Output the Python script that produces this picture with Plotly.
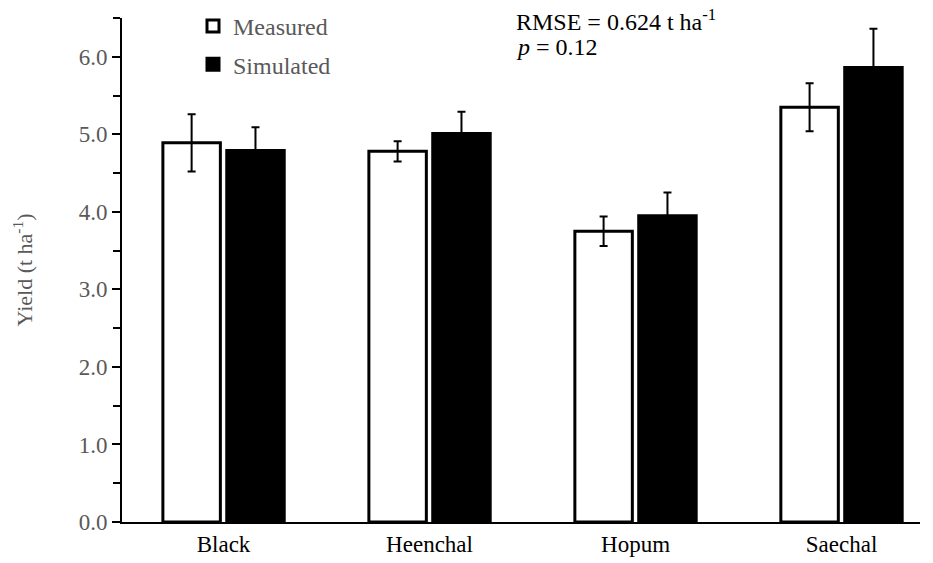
import plotly.graph_objects as go

categories = ["Black", "Heenchal", "Hopum", "Saechal"]
measured = [4.89, 4.78, 3.75, 5.35]
measured_err = [0.37, 0.13, 0.19, 0.31]
simulated = [4.79, 5.01, 3.95, 5.86]
simulated_err = [0.30, 0.28, 0.30, 0.50]
y_ticks = [0.0, 1.0, 2.0, 3.0, 4.0, 5.0, 6.0]

FONT = "Liberation Serif"
GRAY = "#595959"

fig = go.Figure()
fig.add_trace(go.Bar(
    x=categories, y=measured, name="Measured", legendgroup="m",
    marker=dict(color="white", line=dict(color="black", width=3)),
    error_y=dict(type="data", array=measured_err, color="black", thickness=2, width=4),
))
fig.add_trace(go.Bar(
    x=categories, y=simulated, name="Simulated", legendgroup="s",
    marker=dict(color="black", line=dict(color="black", width=3)),
    error_y=dict(type="data", array=simulated_err, color="black", thickness=2, width=4),
))

PLOT_TOP, PLOT_H, PLOT_L, PLOT_W = 18, 504, 122, 798

def py(p):
    return (PLOT_TOP + PLOT_H - p) / PLOT_H

def px(p):
    return (p - PLOT_L) / PLOT_W

fig.update_layout(
    width=933, height=563,
    margin=dict(l=PLOT_L, r=13, t=PLOT_TOP, b=41, autoexpand=False),
    plot_bgcolor="white", paper_bgcolor="white",
    barmode="group", bargap=0.38, bargroupgap=0.1,
    font=dict(family=FONT, size=22, color=GRAY),
    showlegend=True,
    legend=dict(
        x=px(193), y=1 - 4 / 563, xanchor="left", yanchor="top", yref="container",
        font=dict(family=FONT, size=24, color=GRAY),
        bgcolor="rgba(0,0,0,0)", itemwidth=30, tracegroupgap=4,
    ),
    xaxis=dict(
        range=[-0.493, 3.381], showline=True, linecolor="black", linewidth=2,
        ticks="", tickfont=dict(family=FONT, size=23, color="black"),
        showgrid=False, zeroline=False,
    ),
    yaxis=dict(
        range=[0, 6.5], tickvals=y_ticks, ticktext=[f"{v:.1f}" for v in y_ticks],
        showline=True, linecolor="black", linewidth=2,
        ticks="outside", ticklen=8, tickwidth=2, tickcolor="black",
        minor=dict(dtick=0.5, tick0=0, ticks="outside", ticklen=7, tickwidth=2, tickcolor="black"),
        tickfont=dict(family=FONT, size=23, color=GRAY),
        showgrid=False, zeroline=False,
        title=dict(text="Yield (t ha<sup>-1</sup>)", font=dict(family=FONT, size=22, color=GRAY), standoff=40),
    ),
)
fig.add_annotation(
    xref="paper", yref="paper", x=px(514), y=py(20),
    xanchor="left", yanchor="middle",
    text="RMSE = 0.624 t ha<sup>-1</sup>", showarrow=False,
    font=dict(family=FONT, size=24, color="black"),
)
fig.add_annotation(
    xref="paper", yref="paper", x=px(514), y=py(47),
    xanchor="left", yanchor="middle",
    text="<i>p</i> = 0.12", showarrow=False,
    font=dict(family=FONT, size=24, color="black"),
)
fig.write_html("out.html")
